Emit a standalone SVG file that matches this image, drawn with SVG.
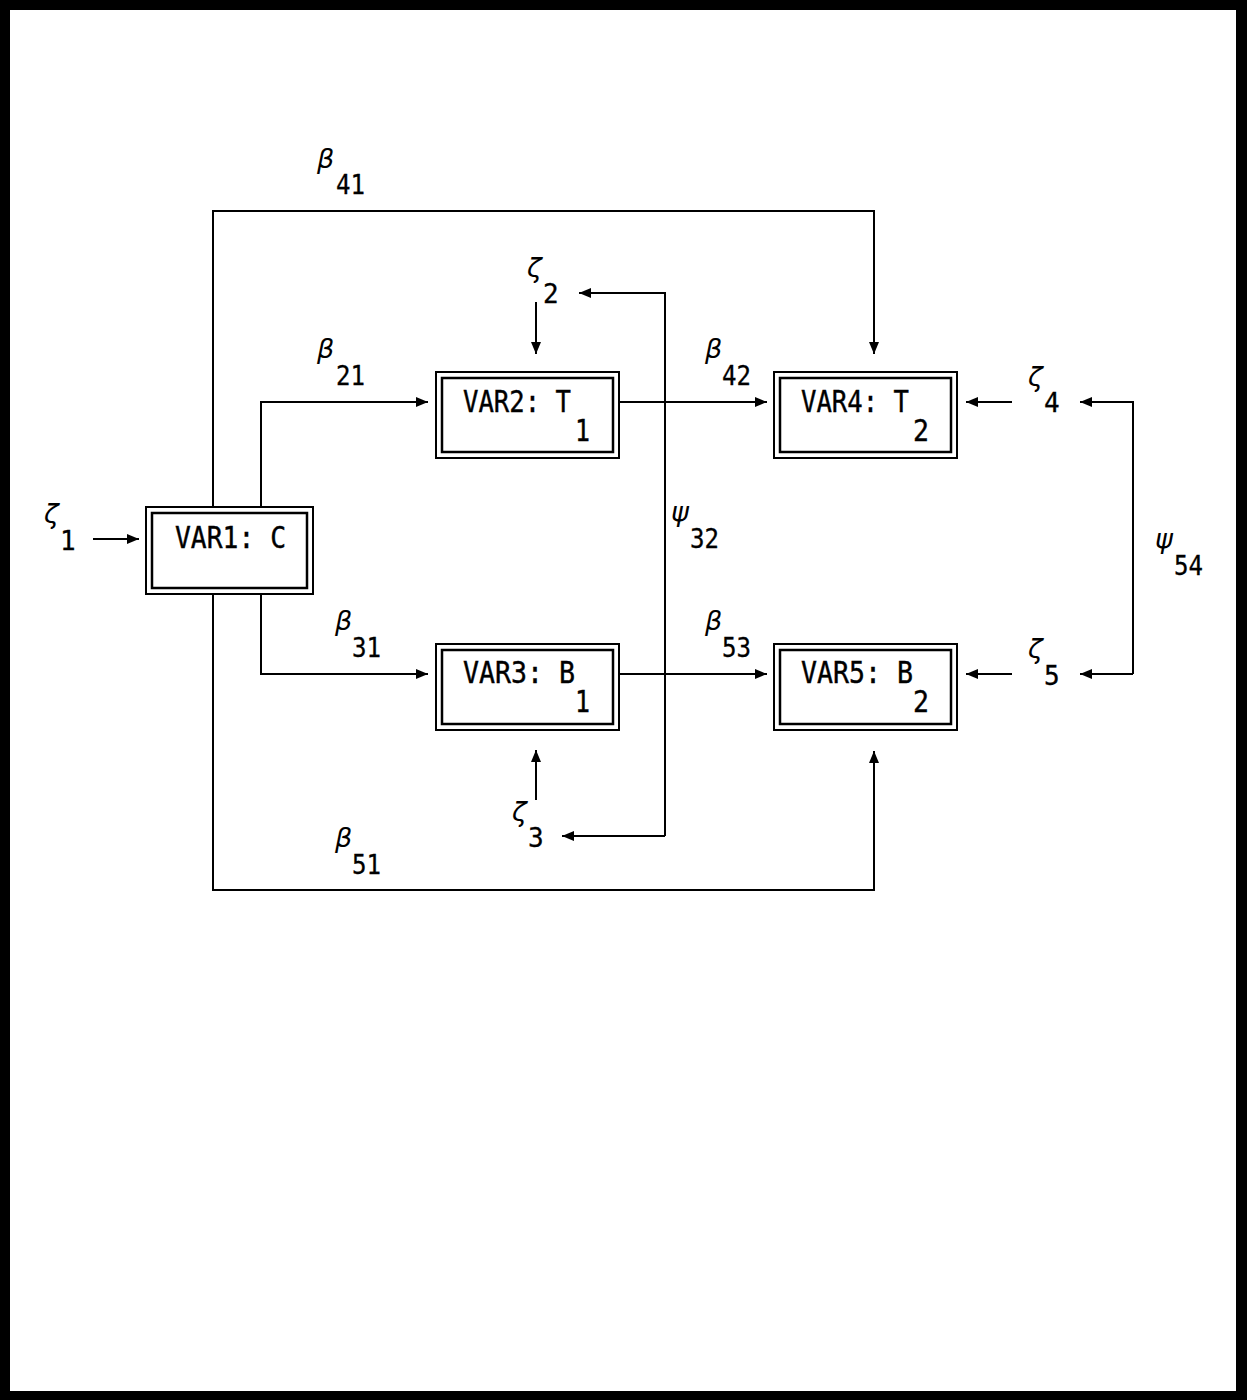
<svg xmlns="http://www.w3.org/2000/svg" width="1247" height="1400" viewBox="0 0 1247 1400">
<defs>
<style>
.frame{fill:#000}
.paper{fill:#fff}
.ob{fill:#fff;stroke:#000;stroke-width:2}
.ib{fill:none;stroke:#000;stroke-width:2.5}
.ln{fill:none;stroke:#000;stroke-width:2}
.bt{font-family:"DejaVu Sans Mono","Liberation Mono",monospace;font-size:30px;fill:#000;stroke:#000;stroke-width:0.4}
.dg{font-family:"DejaVu Sans Mono","Liberation Mono",monospace;font-size:26px;fill:#000;stroke:#000;stroke-width:0.3}
.gk{font-family:"DejaVu Sans","Liberation Sans",sans-serif;font-style:italic;font-size:27px;fill:#000}
</style>
<marker id="ah" viewBox="0 0 12 10" refX="12" refY="5" markerWidth="13" markerHeight="10" markerUnits="userSpaceOnUse" orient="auto">
<path d="M0,0 L12,5 L0,10 Z" fill="#000"/>
</marker>
</defs>
<rect class="frame" x="0" y="0" width="1247" height="1400"/>
<rect class="paper" x="10" y="10" width="1226" height="1381"/>

<g id="connectors">
<path class="ln" d="M93,539 H139" marker-end="url(#ah)"/>
<path class="ln" d="M261,507 V402 H428" marker-end="url(#ah)"/>
<path class="ln" d="M261,594 V674 H428" marker-end="url(#ah)"/>
<path class="ln" d="M213,507 V211 H874 V354" marker-end="url(#ah)"/>
<path class="ln" d="M213,594 V890 H874 V751" marker-end="url(#ah)"/>
<path class="ln" d="M619,402 H767" marker-end="url(#ah)"/>
<path class="ln" d="M619,674 H767" marker-end="url(#ah)"/>
<path class="ln" d="M665,836 V293 H579" marker-end="url(#ah)"/>
<path class="ln" d="M665,836 H562" marker-end="url(#ah)"/>
<path class="ln" d="M536,302 V354" marker-end="url(#ah)"/>
<path class="ln" d="M536,800 V750" marker-end="url(#ah)"/>
<path class="ln" d="M1012,402 H966" marker-end="url(#ah)"/>
<path class="ln" d="M1012,674 H966" marker-end="url(#ah)"/>
<path class="ln" d="M1133,674 V402 H1080" marker-end="url(#ah)"/>
<path class="ln" d="M1133,674 H1080" marker-end="url(#ah)"/>
</g>

<g id="var1">
<rect class="ob" x="146" y="507" width="167" height="87"/>
<rect class="ib" x="152" y="513" width="155" height="75"/>
<text class="bt" x="175" y="548" textLength="111" lengthAdjust="spacingAndGlyphs">VAR1: C</text>
</g>
<g id="var2">
<rect class="ob" x="436" y="372" width="183" height="86"/>
<rect class="ib" x="442" y="378" width="171" height="74"/>
<text class="bt" x="463" y="412" textLength="108" lengthAdjust="spacingAndGlyphs">VAR2: T</text>
<text class="bt" x="575" y="441" textLength="15" lengthAdjust="spacingAndGlyphs">1</text>
</g>
<g id="var3">
<rect class="ob" x="436" y="644" width="183" height="86"/>
<rect class="ib" x="442" y="650" width="171" height="74"/>
<text class="bt" x="463" y="683" textLength="112" lengthAdjust="spacingAndGlyphs">VAR3: B</text>
<text class="bt" x="575" y="712" textLength="15" lengthAdjust="spacingAndGlyphs">1</text>
</g>
<g id="var4">
<rect class="ob" x="774" y="372" width="183" height="86"/>
<rect class="ib" x="780" y="378" width="171" height="74"/>
<text class="bt" x="801" y="412" textLength="108" lengthAdjust="spacingAndGlyphs">VAR4: T</text>
<text class="bt" x="913" y="441" textLength="16" lengthAdjust="spacingAndGlyphs">2</text>
</g>
<g id="var5">
<rect class="ob" x="774" y="644" width="183" height="86"/>
<rect class="ib" x="780" y="650" width="171" height="74"/>
<text class="bt" x="801" y="683" textLength="112" lengthAdjust="spacingAndGlyphs">VAR5: B</text>
<text class="bt" x="913" y="712" textLength="16" lengthAdjust="spacingAndGlyphs">2</text>
</g>

<g id="labels">
<text class="gk" x="317" y="168">β</text><text class="dg" x="336" y="194" textLength="29" lengthAdjust="spacingAndGlyphs">41</text>
<text class="gk" x="317" y="358">β</text><text class="dg" x="336" y="385" textLength="29" lengthAdjust="spacingAndGlyphs">21</text>
<text class="gk" x="335" y="630">β</text><text class="dg" x="352" y="657" textLength="29" lengthAdjust="spacingAndGlyphs">31</text>
<text class="gk" x="335" y="847">β</text><text class="dg" x="352" y="874" textLength="29" lengthAdjust="spacingAndGlyphs">51</text>
<text class="gk" x="705" y="358">β</text><text class="dg" x="722" y="385" textLength="29" lengthAdjust="spacingAndGlyphs">42</text>
<text class="gk" x="705" y="630">β</text><text class="dg" x="722" y="657" textLength="29" lengthAdjust="spacingAndGlyphs">53</text>
<text class="gk" x="44" y="523">ζ</text><text class="dg" x="60" y="550">1</text>
<text class="gk" x="527" y="277">ζ</text><text class="dg" x="543" y="303">2</text>
<text class="gk" x="512" y="821">ζ</text><text class="dg" x="528" y="847">3</text>
<text class="gk" x="1028" y="386">ζ</text><text class="dg" x="1044" y="412">4</text>
<text class="gk" x="1028" y="658">ζ</text><text class="dg" x="1044" y="685">5</text>
<text class="gk" x="671" y="521">ψ</text><text class="dg" x="690" y="548" textLength="29" lengthAdjust="spacingAndGlyphs">32</text>
<text class="gk" x="1155" y="548">ψ</text><text class="dg" x="1174" y="575" textLength="29" lengthAdjust="spacingAndGlyphs">54</text>
</g>
</svg>
